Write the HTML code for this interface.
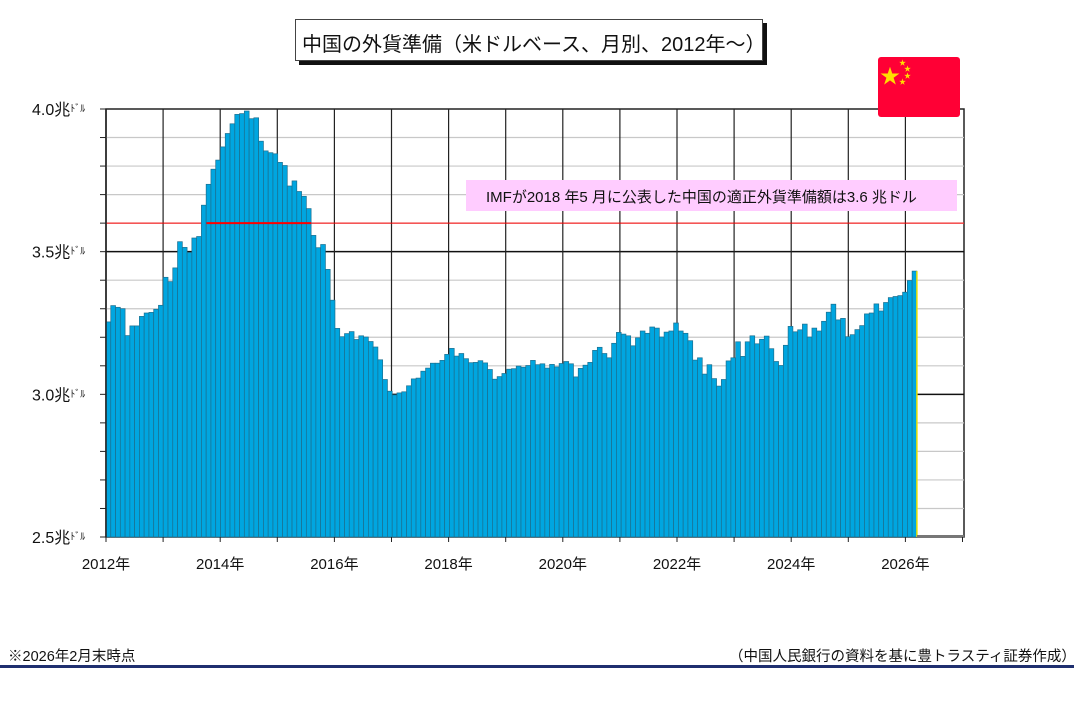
<!DOCTYPE html>
<html><head><meta charset="utf-8">
<style>
body{margin:0;width:1074px;height:707px;background:#fff;position:relative;overflow:hidden;font-family:"Liberation Sans","Noto Sans CJK JP",sans-serif;}
.t{position:absolute;white-space:nowrap;color:#111;}
</style></head><body>
<div style="position:absolute;left:299px;top:23px;width:468px;height:42px;background:#111;"></div>
<div style="position:absolute;left:295px;top:19px;width:466px;height:40px;background:#fff;border:1px solid #444;"></div>
<div class="t" style="left:302px;top:28px;font-size:20px;">中国の外貨準備（米ドルベース、月別、2012年～）</div>
<svg id="c" width="1074" height="707" style="position:absolute;left:0;top:0;"></svg>
<div style="position:absolute;left:878px;top:57px;width:82px;height:60px;background:#ff0035;border-radius:3px;"></div>
<div class="t" style="left:880px;top:60px;font-size:20px;color:#ffde00;">★</div>
<div class="t" style="left:899px;top:58px;font-size:7px;color:#ffde00;">★</div>
<div class="t" style="left:904px;top:64px;font-size:7px;color:#ffde00;">★</div>
<div class="t" style="left:904px;top:71px;font-size:7px;color:#ffde00;">★</div>
<div class="t" style="left:899px;top:77px;font-size:7px;color:#ffde00;">★</div>
<div style="position:absolute;left:466px;top:180px;width:491px;height:31px;background:#ffccff;"></div>
<div class="t" style="left:486px;top:186px;font-size:15px;">IMFが2018 年5 月に公表した中国の適正外貨準備額は3.6 兆ドル</div>
<div class="t" style="left:8px;top:645px;font-size:14.5px;">※2026年2月末時点</div>
<div class="t" style="left:729px;top:645px;font-size:14.5px;">（中国人民銀行の資料を基に豊トラスティ証券作成）</div>
<div style="position:absolute;left:0;top:665px;width:1074px;height:3px;background:#1f2f6f;"></div>
<script>
const v=[3.254,3.311,3.305,3.300,3.206,3.240,3.240,3.273,3.285,3.287,3.298,3.312,
3.410,3.395,3.443,3.535,3.515,3.497,3.548,3.553,3.663,3.736,3.789,3.821,
3.867,3.914,3.948,3.981,3.984,3.993,3.966,3.969,3.887,3.853,3.847,3.843,
3.813,3.802,3.730,3.748,3.711,3.694,3.651,3.557,3.514,3.525,3.438,3.330,
3.231,3.202,3.213,3.220,3.192,3.205,3.201,3.185,3.166,3.121,3.052,3.011,
2.998,3.005,3.009,3.030,3.054,3.057,3.081,3.092,3.109,3.109,3.119,3.140,
3.161,3.134,3.143,3.125,3.111,3.112,3.118,3.110,3.087,3.053,3.062,3.073,
3.088,3.090,3.099,3.095,3.101,3.119,3.104,3.107,3.092,3.105,3.096,3.108,
3.115,3.107,3.061,3.091,3.102,3.112,3.154,3.165,3.143,3.128,3.179,3.217,
3.211,3.205,3.170,3.198,3.222,3.214,3.236,3.232,3.201,3.218,3.222,3.250,
3.222,3.214,3.188,3.120,3.128,3.071,3.104,3.055,3.029,3.052,3.117,3.128,
3.184,3.133,3.184,3.205,3.177,3.193,3.204,3.160,3.115,3.101,3.172,3.238,
3.219,3.226,3.246,3.201,3.232,3.222,3.256,3.288,3.316,3.261,3.266,3.202,
3.209,3.227,3.241,3.282,3.285,3.317,3.292,3.322,3.339,3.343,3.346,3.358,
3.399,3.432];
const L=106,R=964,T=109,B=537,yr=57.1,mw=4.77;
const Y=x=>B-(x-2.5)*(B-T)/1.5;
let s='<rect x="'+L+'" y="'+T+'" width="'+(R-L)+'" height="'+(B-T)+'" fill="#fff" stroke="#222" stroke-width="1.5"/>';
for(let i=1;i<15;i++){const y=Y(2.5+i*0.1);const maj=i%5==0;s+='<line x1="'+L+'" x2="'+R+'" y1="'+y+'" y2="'+y+'" stroke="'+(maj?'#111':'#c8c8c8')+'" stroke-width="'+(maj?1.5:1.2)+'"/>';}
for(let i=1;i<15;i++){const x=L+i*yr;s+='<line x1="'+x+'" x2="'+x+'" y1="'+T+'" y2="'+B+'" stroke="#222" stroke-width="1.2"/>';}
s+='<line x1="'+L+'" x2="'+R+'" y1="'+Y(3.6)+'" y2="'+Y(3.6)+'" stroke="#f00" stroke-width="1"/>';
v.forEach((d,i)=>{const x=L+i*mw,y=Y(d);s+='<rect x="'+x.toFixed(2)+'" y="'+y.toFixed(1)+'" width="'+mw.toFixed(2)+'" height="'+(B-y).toFixed(1)+'" fill="#00a6e0" stroke="#1b6f8f" stroke-width="0.7"/>';});
s+='<line x1="'+(L+24*mw-14)+'" x2="'+(L+43*mw)+'" y1="'+Y(3.6)+'" y2="'+Y(3.6)+'" stroke="#f00" stroke-width="2"/>';
const ex=L+170*mw;
s+='<line x1="'+ex+'" x2="'+ex+'" y1="'+Y(3.432)+'" y2="'+B+'" stroke="#e8e000" stroke-width="1.5"/>';
s+='<rect x="'+ex+'" y="'+(B-2)+'" width="'+(R-ex)+'" height="3" fill="#777"/>';
s+='<line x1="'+L+'" x2="'+L+'" y1="'+T+'" y2="'+B+'" stroke="#222" stroke-width="1.5"/>';
for(let i=0;i<=15;i++){const y=Y(2.5+i*0.1);s+='<line x1="100" x2="'+L+'" y1="'+y+'" y2="'+y+'" stroke="#222"/>';}
for(let i=0;i<=15;i++){const x=L+i*yr;s+='<line x1="'+x+'" x2="'+x+'" y1="'+B+'" y2="'+(B+5)+'" stroke="#222"/>';}
const yl=['2.5','3.0','3.5','4.0'];
yl.forEach((t,i)=>{const y=Y(2.5+i*0.5);s+='<text x="32" y="'+(y+6)+'" font-size="16" fill="#111">'+t+'兆<tspan font-size="10" dy="-3">ﾄﾞﾙ</tspan></text>';});
for(let i=0;i<8;i++){const x=L+i*2*yr;s+='<text x="'+x+'" y="569" font-size="15" fill="#111" text-anchor="middle">'+(2012+2*i)+'年</text>';}
document.getElementById('c').innerHTML=s;
</script>
</body></html>
